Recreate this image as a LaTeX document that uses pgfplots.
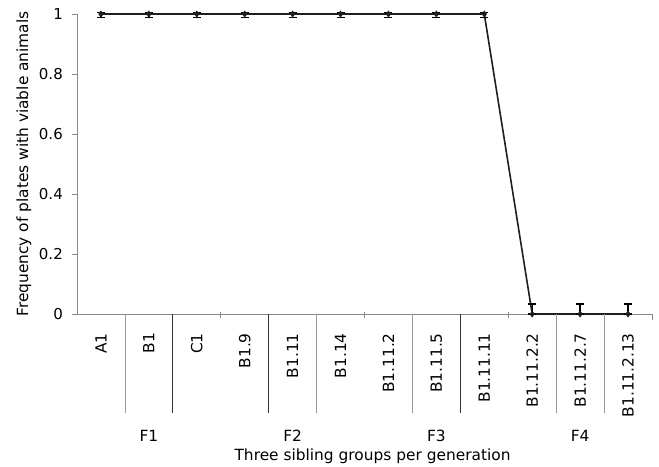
\documentclass[border=0pt]{standalone}
\usepackage{fontspec}
\setmainfont{DejaVu Sans}
\usepackage{pgfplots}
\usepackage{pgfplotstable}
\pgfplotsset{compat=1.18}
\newcommand\ff{\fontsize{15.4bp}{17bp}\selectfont}
\newcommand\ft{\fontsize{15bp}{17bp}\selectfont}
\definecolor{axgray}{HTML}{888888}
\definecolor{sepgray}{HTML}{9A9A9A}
\definecolor{sepdark}{HTML}{333333}
\pgfplotstableread{
x y ep em
0 1 0.005 0.012
1 1 0.005 0.012
2 1 0.005 0.012
3 1 0.005 0.012
4 1 0.005 0.012
5 1 0.005 0.012
6 1 0.005 0.012
7 1 0.005 0.012
8 1 0.005 0.012
9 0 0.034 0
10 0 0.034 0
11 0 0.034 0
}\data
\begin{document}
\begin{tikzpicture}
\useasboundingbox (-77bp,-153bp) rectangle (582bp,314bp);
\begin{axis}[
  at={(0,0)}, anchor=south west,
  scale only axis, width=575bp, height=300bp,
  xmin=-0.5, xmax=11.5, ymin=0, ymax=1,
  clip=false,
  axis x line=bottom, axis y line=left,
  axis line style={-, axgray, line width=0.8bp},
  xtick={0,...,11},
  xticklabels={A1,B1,C1,B1.9,B1.11,B1.14,B1.11.2,B1.11.5,B1.11.11,B1.11.2.2,B1.11.2.7,B1.11.2.13},
  xtick style={draw=none},
  x tick label style={rotate=90, anchor=east, inner sep=0pt, font=\ff},
  xticklabel shift=14bp,
  ytick={0,0.2,0.4,0.6,0.8,1},
  ytick style={axgray, line width=0.8bp},
  major tick length=5bp, tick align=outside,
  y tick label style={anchor=east, inner sep=0pt, font=\ft},
  yticklabel shift=9bp,
  /pgf/number format/assume math mode=true,
  xlabel={Three sibling groups per generation},
  ylabel={Frequency of plates with viable animals},
  every axis x label/.style={at={([yshift=-142bp]axis description cs:0.514,0)}, anchor=center, font=\ff},
  every axis y label/.style={at={([xshift=-53bp]axis description cs:0,0.5)}, anchor=center, rotate=90, font=\ff},
]
\addplot[color=black!88, line width=1.6bp, mark=diamond*, mark size=2.2bp,
  error bars/.cd, y dir=both, y explicit,
  error bar style={black, line width=1.4bp},
  error mark options={black, rotate=90, mark size=4bp, line width=1.4bp}]
  table[x=x, y=y, y error plus=ep, y error minus=em] {\data};
\draw[sepgray, line width=0.8bp] (axis cs:0.5,0) -- ([yshift=-99bp]axis cs:0.5,0);
\draw[sepdark, line width=0.8bp] (axis cs:1.5,0) -- ([yshift=-99bp]axis cs:1.5,0);
\draw[sepdark, line width=0.8bp] (axis cs:3.5,0) -- ([yshift=-99bp]axis cs:3.5,0);
\draw[sepgray, line width=0.8bp] (axis cs:4.5,0) -- ([yshift=-99bp]axis cs:4.5,0);
\draw[sepgray, line width=0.8bp] (axis cs:6.5,0) -- ([yshift=-99bp]axis cs:6.5,0);
\draw[sepdark, line width=0.8bp] (axis cs:7.5,0) -- ([yshift=-99bp]axis cs:7.5,0);
\draw[sepgray, line width=0.8bp] (axis cs:9.5,0) -- ([yshift=-99bp]axis cs:9.5,0);
\draw[sepgray, line width=0.8bp] (axis cs:10.5,0) -- ([yshift=-99bp]axis cs:10.5,0);
\draw[axgray, line width=0.8bp] ([yshift=2bp]axis cs:2.5,0) -- ([yshift=-4bp]axis cs:2.5,0);
\draw[axgray, line width=0.8bp] ([yshift=2bp]axis cs:5.5,0) -- ([yshift=-4bp]axis cs:5.5,0);
\draw[axgray, line width=0.8bp] ([yshift=2bp]axis cs:8.5,0) -- ([yshift=-4bp]axis cs:8.5,0);
\draw[axgray, line width=0.8bp] (axis cs:11.5,0) -- ([yshift=-6bp]axis cs:11.5,0);
\node[font=\ff] at ([yshift=-122bp]axis cs:1,0) {F1};
\node[font=\ff] at ([yshift=-122bp]axis cs:4,0) {F2};
\node[font=\ff] at ([yshift=-122bp]axis cs:7,0) {F3};
\node[font=\ff] at ([yshift=-122bp]axis cs:10,0) {F4};
\end{axis}
\end{tikzpicture}
\end{document}
